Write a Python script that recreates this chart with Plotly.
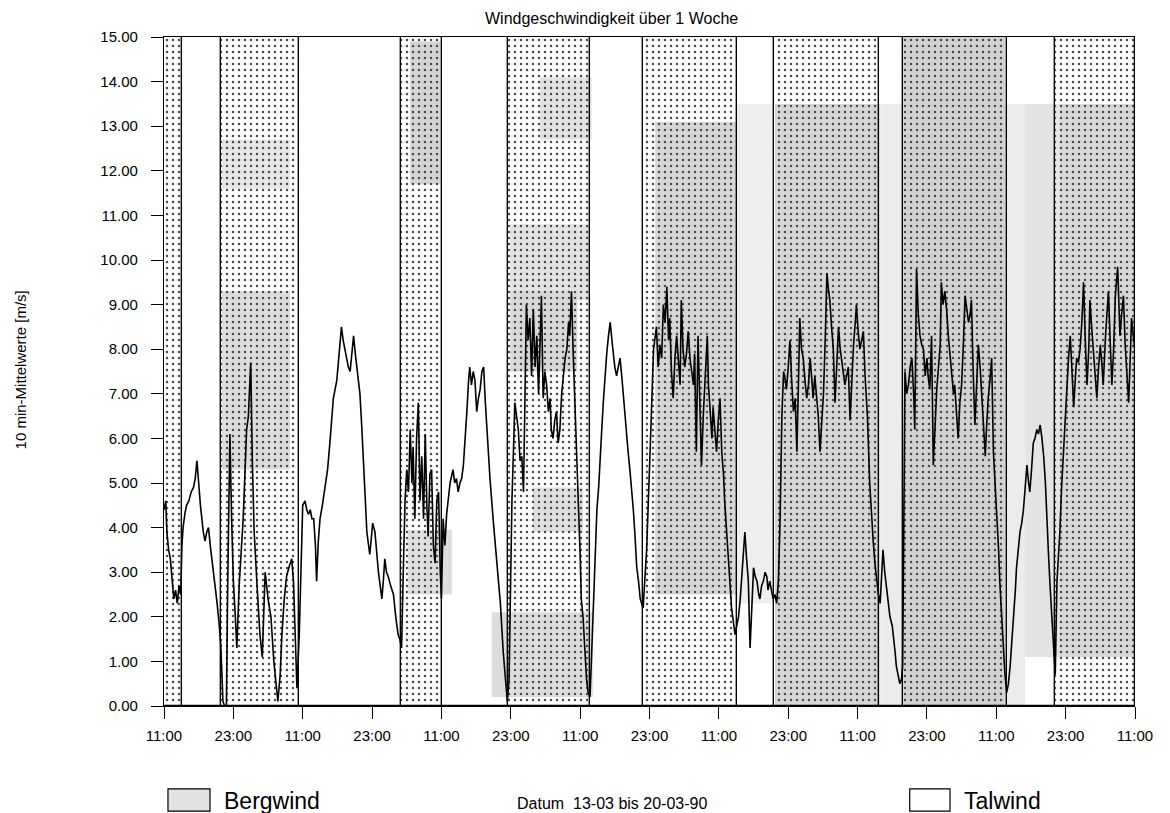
import plotly.graph_objects as go

# ---------------- data (hours after 13-03-90 11:00, wind speed m/s) ----------------
h_a = [0, 0.3, 0.5, 0.8, 1.1, 1.4, 1.7, 2.0, 2.3, 2.6,
       2.9, 3.1, 3.3, 3.6, 3.9, 4.3, 4.7, 5.1, 5.4, 5.7,
       6.0, 6.3, 6.8, 7.1, 7.4, 7.7, 8.0, 8.3, 8.7, 9.1,
       9.5, 9.8, 10.0, 10.2, 10.5, 10.8, 11.0, 11.2, 11.4, 11.7,
       12.0, 12.3, 12.6, 13.0, 13.4, 13.7, 14.0, 14.3, 14.6, 14.8,
       15.0, 15.3, 15.6, 16.1, 16.6, 17.0, 17.5, 18.0, 18.5, 19.0,
       19.4, 19.7, 20.1, 20.4, 20.8, 21.2, 21.6, 22.1, 22.4, 22.7,
       23.0, 23.4, 23.7]
v_a = [4.4, 4.6, 3.9, 3.5, 3.3, 2.9, 2.4, 2.6, 2.3, 2.7,
       2.5, 3.6, 4.0, 4.3, 4.5, 4.6, 4.8, 4.9, 5.1, 5.5,
       5.0, 4.5, 3.9, 3.7, 3.9, 4.0, 3.6, 3.3, 2.9, 2.4,
       1.9, 1.4, 0.8, 0.1, 0.0, 0.0, 2.5, 4.5, 6.1, 4.2,
       2.8, 2.1, 1.3, 2.7, 3.5, 4.2, 5.2, 6.2, 6.5, 7.2,
       7.7, 5.4, 3.9, 2.7, 1.6, 1.1, 3.0, 2.4, 2.0, 1.0,
       0.4, 0.1, 0.7, 1.6, 2.4, 2.9, 3.1, 3.3, 2.8, 1.5,
       0.4, 1.6, 3.2]

h_b = [24.0, 24.4, 24.7, 25.0, 25.3, 25.6, 25.9, 26.2, 26.4, 26.7,
       27.0, 27.4, 27.9, 28.3, 28.7, 29.0, 29.3, 29.6, 29.9, 30.3,
       30.7, 31.0, 31.3, 31.6, 31.9, 32.2, 32.5, 32.8, 33.1, 33.3,
       33.6, 33.9, 34.2, 34.5, 34.8, 35.1, 35.4, 35.6, 35.9, 36.1,
       36.5, 36.8, 37.1, 37.4, 37.7, 38.0, 38.2, 38.5, 38.8, 39.2,
       39.7, 40.1, 40.5, 40.8, 41.1]
v_b = [4.5, 4.6, 4.4, 4.3, 4.4, 4.2, 4.2, 3.6, 2.8, 3.7,
       4.2, 4.5, 4.9, 5.3, 5.9, 6.4, 6.9, 7.1, 7.3, 7.9,
       8.5, 8.2, 8.0, 7.8, 7.6, 7.5, 7.9, 8.3, 7.9, 7.7,
       7.4, 7.0, 6.3, 5.5, 4.6, 3.9, 3.6, 3.4, 3.8, 4.1,
       3.9, 3.4, 3.0, 2.7, 2.4, 2.9, 3.3, 3.0, 2.9, 2.7,
       2.5, 2.0, 1.6, 1.5, 1.3]

h_c = [41.4, 41.7, 42.0, 42.3, 42.6, 42.9, 43.1, 43.4, 43.7, 44.0,
       44.3, 44.6, 44.9, 45.2, 45.5, 45.7, 46.0, 46.3, 46.6, 46.9,
       47.2, 47.5, 47.8, 48.0, 48.3, 48.6, 48.9, 49.2, 49.5, 50.0,
       50.3, 50.6, 50.9, 51.2, 51.5, 51.8, 52.1, 52.4, 52.7, 52.9,
       53.2, 53.5, 53.8, 54.1, 54.4, 54.7, 55.0, 55.3, 55.6, 55.8,
       56.1, 56.4, 57.0, 57.5, 58.2, 58.7, 59.1, 59.4, 59.7]
v_c = [3.0, 4.6, 5.3, 4.8, 6.2, 5.0, 5.8, 4.2, 6.0, 6.8,
       4.6, 5.6, 4.2, 6.1, 4.4, 3.8, 5.2, 5.3, 3.6, 3.2,
       4.6, 4.8, 3.0, 2.4, 4.2, 3.6, 4.3, 4.6, 5.0, 5.3,
       5.0, 5.1, 4.8, 5.0, 5.1, 5.4, 5.9, 6.6, 7.3, 7.6,
       7.2, 7.5, 7.3, 6.6, 6.9, 7.1, 7.5, 7.6, 6.8, 6.3,
       5.8, 5.1, 4.1, 3.4, 2.3, 1.2, 0.5, 0.1, 0.6]

h_d = [60.0, 60.2, 60.5, 60.7, 61.0, 61.3, 61.6, 61.9, 62.2, 62.4,
       62.7, 63.0, 63.3, 63.6, 63.9, 64.2, 64.5, 64.8, 65.1, 65.3,
       65.6, 65.9, 66.2, 66.5, 66.8, 67.0, 67.3, 67.6, 67.9, 68.2,
       68.5, 68.8, 69.1, 69.4, 69.7, 70.0, 70.2, 70.5, 70.8, 71.1,
       71.4, 71.7, 72.0, 72.2, 72.5, 72.8, 73.1, 73.4, 73.7]
v_d = [3.4, 4.6, 5.9, 6.8, 6.5, 6.2, 5.5, 5.6, 4.8, 6.5,
       9.0, 8.2, 8.7, 7.4, 8.9, 7.6, 8.3, 7.0, 8.1, 9.2,
       6.9, 7.5, 7.2, 6.6, 6.9, 6.2, 6.0, 6.4, 6.6, 5.9,
       6.2, 7.0, 7.4, 7.8, 8.0, 8.6, 8.3, 9.3, 7.9, 6.9,
       5.6, 4.5, 3.4, 2.4, 2.0, 1.2, 0.6, 0.3, 0.2]

h_e = [74.0, 74.3, 74.6, 74.9, 75.2, 75.4, 75.7, 76.0, 76.3, 76.6,
       76.9, 77.2, 77.5, 77.7, 78.0, 78.3, 78.6, 78.9, 79.2, 79.5,
       79.8, 80.0, 80.3, 80.6, 80.9, 81.2, 81.5, 81.8, 82.1, 82.4,
       82.9]
v_e = [1.2, 2.3, 3.4, 4.4, 4.9, 5.3, 6.1, 6.8, 7.4, 7.9,
       8.3, 8.6, 8.2, 7.9, 7.6, 7.4, 7.6, 7.8, 7.4, 6.9,
       6.5, 6.0, 5.7, 5.3, 4.9, 4.4, 3.8, 3.1, 2.8, 2.4,
       2.2]

h_f = [83.5, 84.1, 84.7, 85.2, 85.5, 85.8, 86.1, 86.4, 86.7, 87.0,
       87.3, 87.5, 87.8, 88.1, 88.4, 88.7, 89.0, 89.3, 89.5, 89.8,
       90.1, 90.4, 90.7, 91.0, 91.3, 91.6, 91.8, 92.1, 92.4, 92.7,
       93.0, 93.3, 93.6, 94.0, 94.2, 94.5, 94.8, 95.0, 95.3, 95.6,
       95.9, 96.2, 96.5, 96.8, 97.0, 97.3, 97.6, 97.9, 98.2, 98.5,
       98.8, 99.1, 99.4, 99.7, 100.0, 100.3, 100.5, 100.8, 101.1, 101.4,
       101.7, 102.0, 102.3, 102.6, 102.9, 103.1, 103.4, 103.7, 104.0, 104.3,
       104.5, 104.8, 105.1, 105.4, 105.7, 106.0, 106.3, 106.6, 106.9, 107.2,
       107.5, 107.7, 108.0, 108.3, 108.6, 108.9, 109.2, 109.5, 109.8, 110.0,
       110.3, 110.6, 110.9, 111.2, 111.5, 111.8, 112.1, 112.3, 112.6, 112.9,
       113.2, 113.5, 113.8, 114.1, 114.4, 114.7, 115.0, 115.2, 115.5, 115.8,
       116.1, 116.4, 116.7, 117.0, 117.2, 117.5, 117.8, 118.1, 118.4, 118.7,
       119.0, 119.3, 119.6, 119.8, 120.1, 120.4, 120.7, 121.0, 121.3, 121.7,
       122.1, 122.4, 122.7, 123.0, 123.3, 123.6, 123.9, 124.2, 124.4, 124.7,
       125.0]
v_f = [3.5, 5.7, 8.0, 8.5, 7.6, 8.1, 7.8, 9.0, 8.6, 9.4,
       8.2, 8.7, 7.5, 6.9, 7.8, 8.3, 7.6, 7.2, 9.1, 8.0,
       7.6, 7.9, 8.4, 7.8, 7.5, 7.2, 7.9, 5.7, 8.3, 6.8,
       5.4, 6.5, 7.4, 8.3, 7.2, 6.5, 6.0, 6.7, 6.2, 5.7,
       6.4, 6.9, 5.7, 5.2, 4.6, 4.0, 3.5, 2.8, 2.2, 1.9,
       1.6, 1.8, 2.0, 2.4, 2.9, 3.5, 3.9, 3.3, 2.8, 1.3,
       2.2, 3.1, 2.9, 2.8, 2.5, 2.4, 2.7, 2.8, 3.0, 2.9,
       2.6, 2.8, 2.6, 2.4, 2.5, 2.3, 2.8, 4.2, 6.5, 7.5,
       7.3, 7.1, 7.6, 8.2, 7.3, 6.6, 6.9, 5.7, 7.4, 8.7,
       8.0, 7.8, 7.3, 6.9, 7.2, 7.8, 7.3, 6.9, 7.4, 7.0,
       6.5, 5.7, 6.3, 7.0, 8.2, 9.7, 9.3, 9.1, 8.5, 8.0,
       6.8, 7.6, 8.5, 8.0, 7.8, 7.4, 7.2, 7.4, 7.6, 6.4,
       7.3, 8.1, 8.6, 9.0, 8.4, 8.0, 8.2, 8.4, 7.4, 6.5,
       5.0, 4.3, 3.7, 3.2, 2.8, 2.5, 2.3, 3.0, 3.5, 3.0,
       2.7]

h_g = [125.3, 125.6, 126.0, 126.2, 126.5, 126.7, 127.0, 127.3, 127.6, 127.8,
       128.0, 128.2, 128.5, 128.8, 129.1, 129.4, 129.7, 129.9, 130.2, 130.5,
       130.8, 131.1, 131.4, 131.7, 132.0, 132.2, 132.5, 132.8, 133.1, 133.4,
       133.7, 134.0, 134.3, 134.5, 134.8, 135.1, 135.4, 135.7, 136.0, 136.3,
       136.6, 136.8, 137.1, 137.4, 137.7, 138.0, 138.3, 138.6, 138.9, 139.2,
       139.5, 139.7, 140.0, 140.3, 140.6, 140.9, 141.2, 141.5, 141.8, 142.1,
       142.3, 142.6, 142.9, 143.2, 143.5, 143.8, 144.1, 144.4, 144.6, 144.9,
       145.2, 145.5, 145.8, 146.1, 146.4, 146.7, 147.0, 147.3, 147.5, 147.8,
       148.1, 148.4, 148.7, 149.0, 149.3, 149.6, 149.8, 150.1, 150.4, 150.7,
       151.0, 151.3, 151.6, 151.9, 152.2, 152.5, 152.7, 153.0, 153.3, 153.6,
       153.9, 154.2, 154.5, 154.8, 155.0, 155.3, 155.6, 155.9, 156.2, 156.5,
       156.8, 157.1, 157.4, 157.7, 157.9, 158.2, 158.5, 158.8, 159.1, 159.4,
       159.7, 160.0, 160.2, 160.5, 160.8, 161.1, 161.4, 161.7, 162.0, 162.3,
       162.5, 162.9, 163.4, 163.7, 164.0, 164.3, 164.6, 165.0, 165.4, 165.7,
       166.0, 166.3, 166.6, 166.9, 167.2, 167.4, 167.7, 168.0]
v_g = [2.4, 2.0, 1.8, 1.6, 1.2, 0.9, 0.7, 0.5, 0.6, 0.9,
       4.0, 7.5, 7.0, 7.2, 7.6, 7.8, 7.0, 6.2, 9.8, 8.8,
       8.3, 8.1, 8.0, 7.4, 7.8, 7.4, 7.1, 8.3, 5.4, 6.3,
       7.1, 7.6, 8.1, 9.5, 9.0, 9.3, 8.9, 8.3, 7.9, 7.5,
       7.0, 7.2, 6.6, 6.0, 6.8, 7.2, 8.1, 9.2, 8.9, 8.6,
       8.8, 9.1, 7.5, 6.3, 7.2, 8.1, 7.6, 7.0, 6.4, 5.6,
       6.2, 6.9, 7.3, 7.8, 5.7, 5.0, 4.2, 3.5, 2.8, 2.0,
       1.3, 0.7, 0.3, 0.5, 0.9, 1.4, 2.0, 2.6, 3.1, 3.5,
       3.9, 4.1, 4.4, 4.9, 5.4, 5.0, 4.8, 5.3, 5.9, 6.0,
       6.2, 6.1, 6.3, 6.0, 5.6, 5.0, 4.2, 3.5, 2.7, 2.0,
       1.3, 0.7, 2.8, 3.4, 3.9, 4.9, 5.7, 6.5, 7.2, 7.8,
       8.3, 7.5, 6.7, 7.4, 7.8, 7.7, 8.0, 8.6, 9.5, 8.2,
       7.2, 8.0, 9.1, 8.5, 8.0, 7.4, 6.9, 7.6, 8.1, 7.6,
       7.2, 8.3, 9.3, 8.2, 7.2, 8.0, 9.2, 9.85, 8.3, 8.8,
       9.2, 8.1, 7.4, 6.8, 7.9, 8.7, 8.3, 8.0]

# Bergwind periods (hours after start); Talwind lies in between
berg_start = [0.0, 9.9, 41.0, 59.5, 82.9, 105.5, 127.9, 154.2]
berg_end = [3.1, 23.4, 48.1, 73.7, 99.1, 123.7, 145.8, 168.0]

# x-axis ticks every 12 h
tick_hours = list(range(0, 169, 12))
tick_labels = ["11:00", "23:00"] * 7 + ["11:00"]

# ---------------- assemble ----------------
segments_h = [h_a, h_b, h_c, h_d, h_e, h_f, h_g]
segments_v = [v_a, v_b, v_c, v_d, v_e, v_f, v_g]
hours, speed = [], []
for hh, vv in zip(segments_h, segments_v):
    assert len(hh) == len(vv), (len(hh), len(vv))
    hours += hh
    speed += vv

tal_start = berg_end[:-1]
tal_end = berg_start[1:]

# grey photocopy tone regions seen on the scan (hour0, hour1, v0, v1, colour)
scan_tone = [
    (10.0, 21.8, 11.6, 12.7, "#e6e6e6"),
    (10.0, 21.8, 5.3, 9.3, "#dcdcdc"),
    (42.6, 47.8, 11.7, 14.9, "#d4d4d4"),
    (42.2, 49.8, 2.5, 3.95, "#dedede"),
    (59.9, 73.7, 9.1, 10.8, "#e2e2e2"),
    (59.9, 71.5, 7.5, 9.3, "#d8d8d8"),
    (65.0, 74.0, 12.7, 14.1, "#e2e2e2"),
    (63.8, 72.5, 3.9, 4.9, "#dedede"),
    (56.7, 74.2, 0.2, 2.1, "#dcdcdc"),
    (85.0, 103.0, 2.5, 13.1, "#d6d6d6"),
    (99.1, 105.5, 2.3, 13.5, "#eeeeee"),
    (105.7, 123.9, 0.0, 13.5, "#d6d6d6"),
    (123.9, 149.0, 0.0, 13.5, "#ececec"),
    (127.9, 145.5, 0.0, 15.0, "#d2d2d2"),
    (149.0, 168.0, 1.1, 13.5, "#e4e4e4"),
    (155.0, 168.0, 1.1, 13.5, "#d8d8d8"),
]

FONT = "Liberation Sans"
fig = go.Figure()

for h0, h1, v0, v1, col in scan_tone:
    fig.add_shape(type="rect", xref="x", yref="y", x0=h0, x1=h1, y0=v0, y1=v1,
                  fillcolor=col, line_width=0, layer="below")

fig.add_trace(go.Bar(
    x=[(s + e) / 2 for s, e in zip(tal_start, tal_end)],
    y=[15] * len(tal_start),
    width=[e - s for s, e in zip(tal_start, tal_end)],
    base=0,
    marker=dict(color="rgba(255,255,255,0)", line=dict(color="black", width=1.2)),
    name="Talwind", hoverinfo="skip", showlegend=False,
))
fig.add_trace(go.Bar(
    x=[(s + e) / 2 for s, e in zip(berg_start, berg_end)],
    y=[15] * len(berg_start),
    width=[e - s for s, e in zip(berg_start, berg_end)],
    base=0,
    marker=dict(color="#4a4a4a",
                pattern=dict(shape=".", size=6, solidity=0.13, fillmode="replace"),
                line=dict(color="black", width=1.2)),
    name="Bergwind", hoverinfo="skip", showlegend=False,
))
fig.add_trace(go.Scatter(
    x=hours, y=speed, mode="lines",
    line=dict(color="black", width=1.6),
    name="Windgeschwindigkeit", showlegend=False,
))

# the page body adds 8 px around the figure, so the figure is 8 px smaller
fig.update_layout(
    width=1162, height=805,
    margin=dict(l=156, r=35, t=29, b=107),
    paper_bgcolor="white", plot_bgcolor="white",
    barmode="overlay", bargap=0,
    font=dict(family=FONT, size=15, color="black"),
    showlegend=False,
)
fig.update_xaxes(
    range=[0, 168], tickvals=tick_hours, ticktext=tick_labels,
    ticks="outside", ticklen=12, tickcolor="black", tickwidth=1.2,
    ticklabelstandoff=4,
    showline=True, linecolor="black", linewidth=1.2, mirror=True,
    showgrid=False, zeroline=False, tickfont=dict(size=15),
)
fig.update_yaxes(
    range=[0, 15], tick0=0, dtick=1, tickformat=".2f",
    ticks="outside", ticklen=12, tickcolor="black", tickwidth=1.2,
    ticklabelstandoff=10,
    showline=True, linecolor="black", linewidth=1.2,
    showgrid=False, zeroline=False, tickfont=dict(size=15),
)

ann = [
    dict(text="Windgeschwindigkeit über 1 Woche", x=0.461, y=1.028,
         xanchor="center", yanchor="middle", font=dict(size=16)),
    dict(text="10 min-Mittelwerte [m/s]", x=-0.148, y=0.502, textangle=-90,
         xanchor="center", yanchor="middle", font=dict(size=15)),
    dict(text="Datum  13-03 bis 20-03-90", x=0.461, y=-0.145,
         xanchor="center", yanchor="middle", font=dict(size=16)),
    dict(text="Bergwind", x=0.0597, y=-0.142,
         xanchor="left", yanchor="middle", font=dict(size=23)),
    dict(text="Talwind", x=0.822, y=-0.142,
         xanchor="left", yanchor="middle", font=dict(size=23)),
]
for a in ann:
    fig.add_annotation(xref="paper", yref="paper", showarrow=False, **a)

fig.add_shape(type="rect", xref="paper", yref="paper", x0=0.0041, x1=0.0474,
              y0=-0.157, y1=-0.124, fillcolor="#e2e2e2",
              line=dict(color="black", width=1.2))
fig.add_shape(type="rect", xref="paper", yref="paper", x0=0.768, x1=0.8095,
              y0=-0.157, y1=-0.124, fillcolor="white",
              line=dict(color="black", width=1.2))

fig.write_html("out.html")
